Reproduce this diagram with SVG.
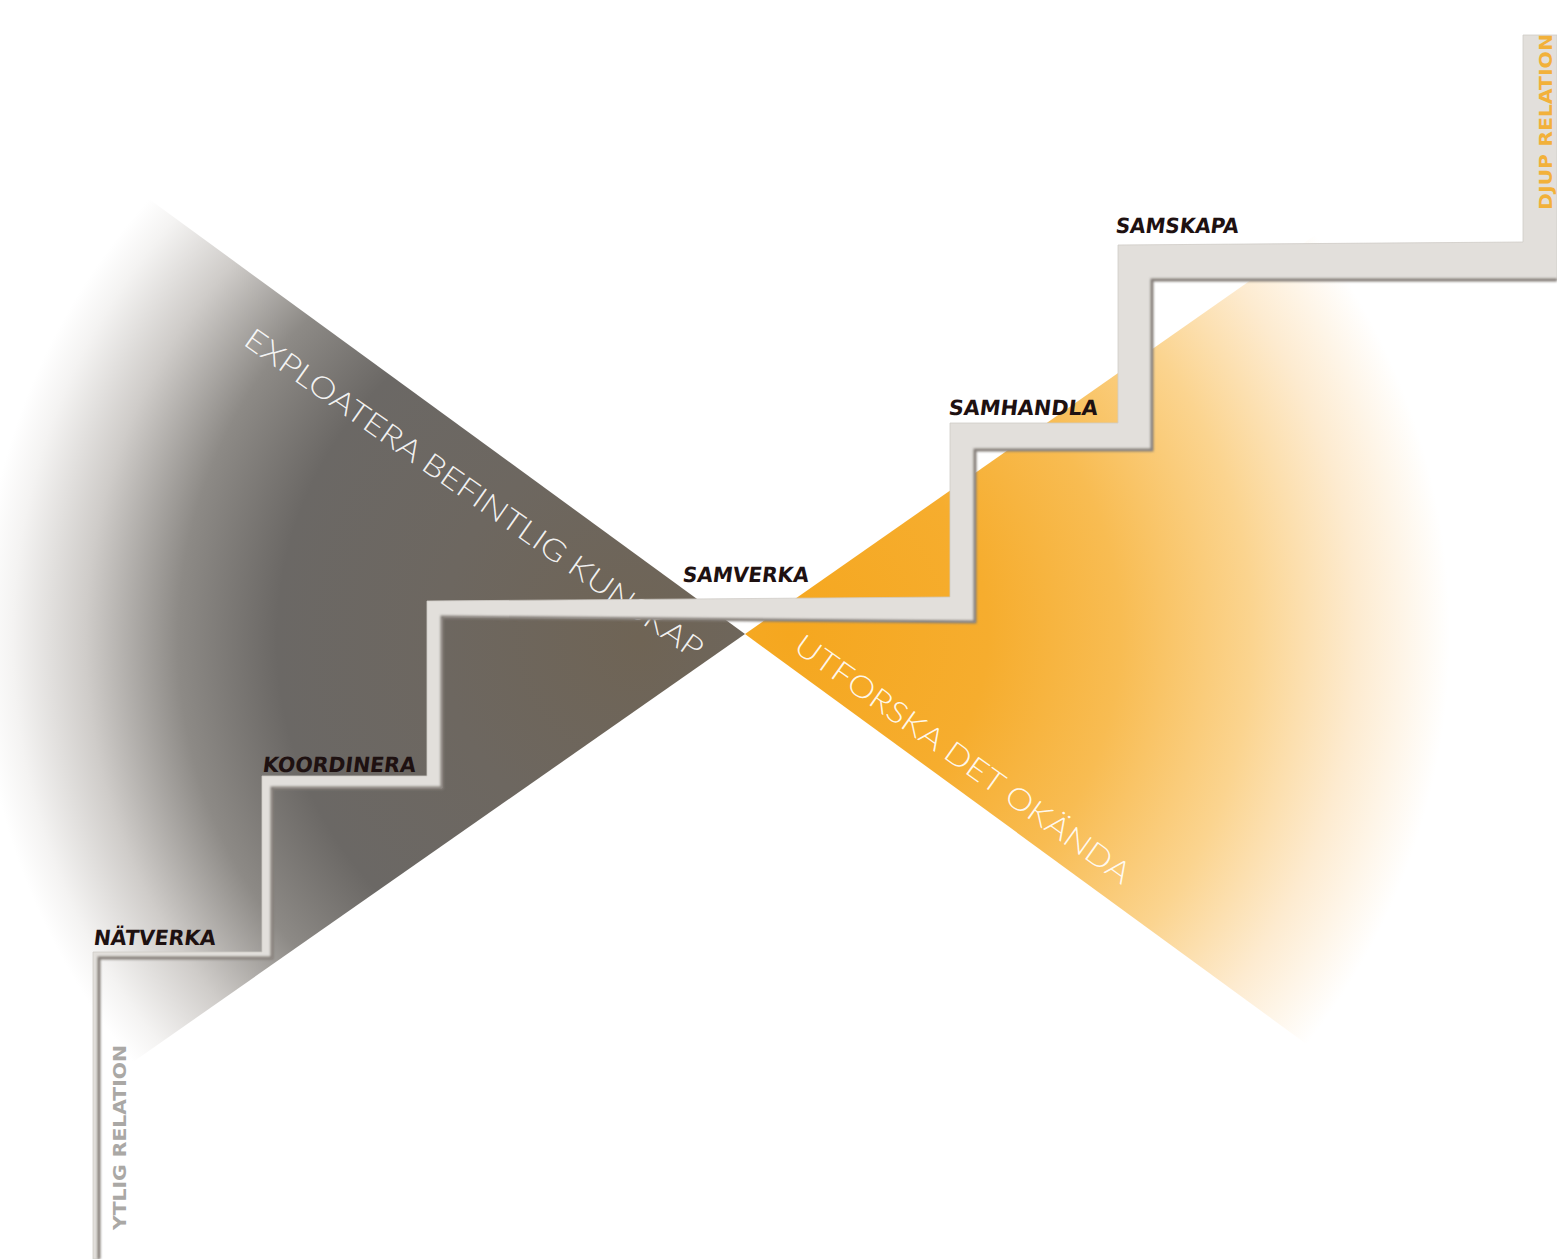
<svg xmlns="http://www.w3.org/2000/svg" width="1557" height="1259" viewBox="0 0 1557 1259">
  <defs>
    <radialGradient id="gDark" gradientUnits="userSpaceOnUse" cx="640" cy="640" r="660">
      <stop offset="0" stop-color="#6f6455"/>
      <stop offset="0.3" stop-color="#6d6760"/>
      <stop offset="0.55" stop-color="#6b6865"/>
      <stop offset="0.7" stop-color="#8d8a86"/>
      <stop offset="0.84" stop-color="#cfccc9"/>
      <stop offset="0.95" stop-color="#f4f3f2"/>
      <stop offset="1" stop-color="#ffffff"/>
    </radialGradient>
    <radialGradient id="gOrange" gradientUnits="userSpaceOnUse" cx="790" cy="634" r="660">
      <stop offset="0" stop-color="#f5a71f"/>
      <stop offset="0.3" stop-color="#f6ad2e"/>
      <stop offset="0.5" stop-color="#f8bc52"/>
      <stop offset="0.7" stop-color="#fbd48f"/>
      <stop offset="0.86" stop-color="#fdebd0"/>
      <stop offset="1" stop-color="#ffffff"/>
    </radialGradient>
    <filter id="soft" x="-5%" y="-5%" width="110%" height="110%">
      <feGaussianBlur stdDeviation="0.9"/>
    </filter>
  </defs>
  <style>
    .lbl { font-family: "DejaVu Sans", "Liberation Sans", sans-serif; font-weight: 700; font-size: 21px; fill: #1e1111; }
    .big { font-family: Lato, "Liberation Sans", sans-serif; font-weight: 300; font-size: 30px; fill: #ffffff; fill-opacity: 0.92; }
    .side { font-family: "DejaVu Sans", "Liberation Sans", sans-serif; font-weight: 700; font-size: 17px; }
    .band { fill: #e2dfdb; stroke: #cfcbc6; stroke-width: 0.8; }
    .shadow { fill: none; stroke: #857f79; stroke-width: 3; stroke-linejoin: miter; }
  </style>
  <rect width="1557" height="1259" fill="#ffffff"/>

  <g id="background">
    <polygon id="wedge-exploit" points="745,634 -10,83 -10,1162" fill="url(#gDark)"/>
    <polygon id="wedge-explore" points="745,634 1557,66 1557,1227" fill="url(#gOrange)"/>
  </g>

  <g id="axis-texts">
    <text class="big" transform="translate(242,344) rotate(35)" textLength="552" lengthAdjust="spacingAndGlyphs">EXPLOATERA BEFINTLIG KUNSKAP</text>
    <text class="big" transform="translate(792,650) rotate(35.5)" textLength="405" lengthAdjust="spacingAndGlyphs">UTFORSKA DET OKÄNDA</text>
  </g>

  <g id="connectors">
    <polygon class="band" points="93,1259 93,952 262,952 262,776 427,776 427,601 950,597 950,423 1118,423 1118,245 1523,242 1523,35 1557,35 1557,280 1152,280 1152,450 975,450 975,622 442,617 442,788 272,788 272,958 99,958 99,1259"/>
    <polyline class="shadow" filter="url(#soft)" points="99,1259 99,958 272,958 272,788 442,788 442,617 975,622 975,450 1152,450 1152,280 1557,280"/>
  </g>

  <g id="node-natverka"><text class="lbl" transform="translate(93,945) skewX(-7)" textLength="122" lengthAdjust="spacingAndGlyphs">NÄTVERKA</text></g>
  <g id="node-koordinera"><text class="lbl" transform="translate(262,772) skewX(-7)" textLength="153" lengthAdjust="spacingAndGlyphs">KOORDINERA</text></g>
  <g id="node-samverka"><text class="lbl" transform="translate(682,582) skewX(-7)" textLength="126" lengthAdjust="spacingAndGlyphs">SAMVERKA</text></g>
  <g id="node-samhandla"><text class="lbl" transform="translate(948,415) skewX(-7)" textLength="149" lengthAdjust="spacingAndGlyphs">SAMHANDLA</text></g>
  <g id="node-samskapa"><text class="lbl" transform="translate(1115,233) skewX(-7)" textLength="123" lengthAdjust="spacingAndGlyphs">SAMSKAPA</text></g>

  <g id="node-djup"><text class="side" fill="#f2b13a" transform="translate(1552,210) rotate(-90)" textLength="176" lengthAdjust="spacingAndGlyphs">DJUP RELATION</text></g>
  <g id="node-ytlig"><text class="side" fill="#aaa8a5" transform="translate(126,1230) rotate(-90)" textLength="185" lengthAdjust="spacingAndGlyphs">YTLIG RELATION</text></g>
</svg>
